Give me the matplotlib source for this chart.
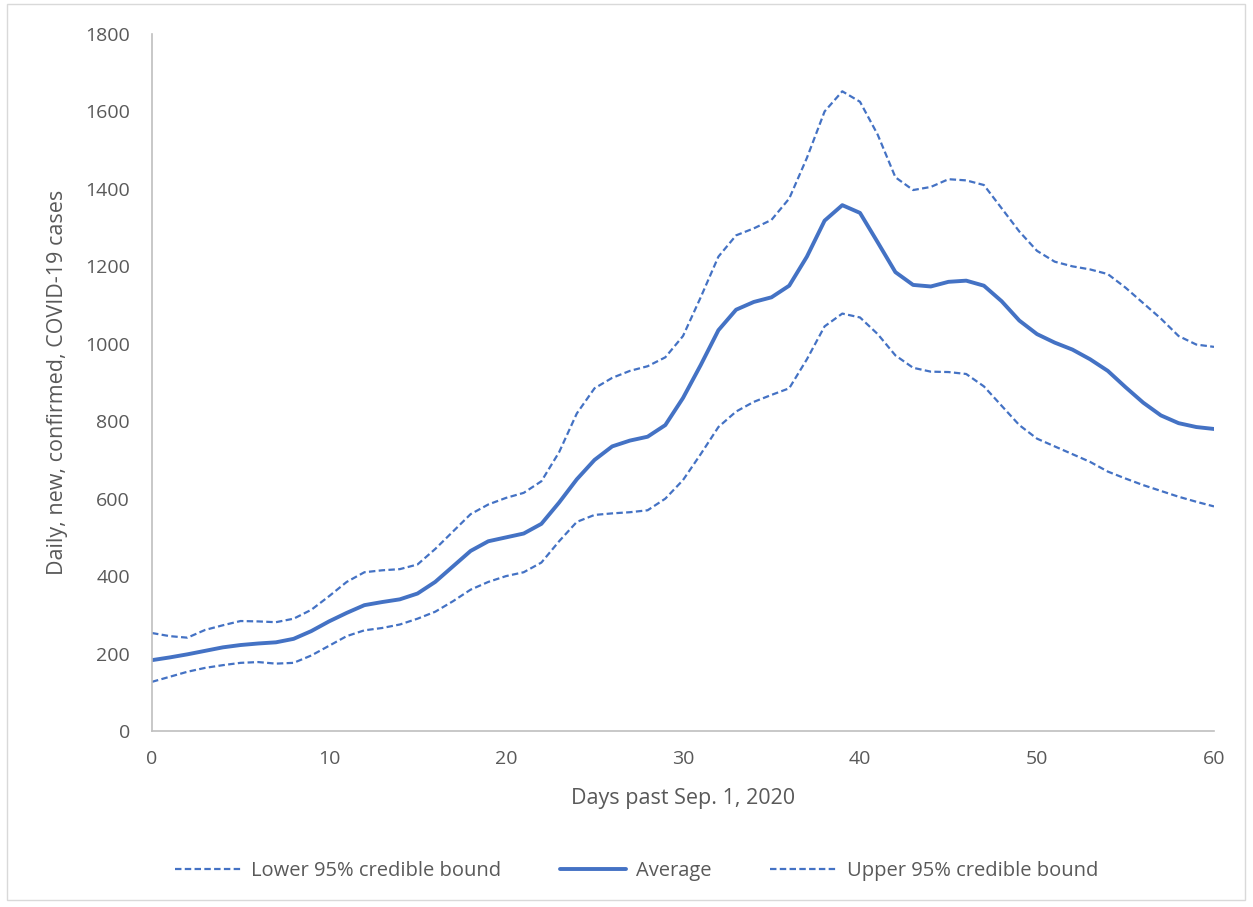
import matplotlib.pyplot as plt
import numpy as np
from matplotlib.patches import Rectangle

days = np.arange(0, 61)

average = [183, 190, 198, 207, 216, 222, 226, 229, 238, 258,
           283, 305, 325, 333, 340, 355, 385, 425, 465, 490,
           500, 510, 535, 590, 650, 700, 735, 750, 760, 790,
           860, 945, 1035, 1088, 1108, 1120, 1150, 1225, 1318, 1358,
           1338, 1262, 1185, 1152, 1148, 1160, 1163, 1150, 1110, 1060,
           1025, 1003, 985, 960, 930, 888, 848, 815, 795, 785,
           780]

lower = [127, 140, 153, 163, 170, 176, 178, 174, 176, 195,
         220, 245, 260, 266, 275, 290, 308, 335, 365, 385,
         400, 410, 435, 490, 540, 558, 562, 565, 570, 600,
         648, 715, 785, 825, 850, 868, 885, 960, 1045, 1078,
         1068, 1025, 970, 938, 928, 927, 922, 890, 840, 790,
         755, 735, 715, 695, 670, 652, 635, 620, 605, 592,
         580]

upper = [253, 245, 241, 261, 273, 284, 283, 281, 290, 313,
         348, 385, 410, 415, 418, 430, 470, 515, 560, 585,
         602, 615, 645, 720, 820, 885, 912, 930, 942, 965,
         1020, 1120, 1225, 1280, 1298, 1320, 1375, 1480, 1600, 1652,
         1625, 1540, 1430, 1397, 1405, 1425, 1422, 1410, 1350, 1290,
         1240, 1212, 1200, 1192, 1180, 1145, 1105, 1065, 1020, 998,
         992]

blue = '#4472C4'
grey_txt = '#595959'
font = 'Open Sans'

fig = plt.figure(figsize=(12.53, 9.07), dpi=100)
ax = fig.add_axes([152/1253, 1-731/907, (1214-152)/1253, (731-34)/907])

ax.plot(days, lower, color=blue, lw=1.6, dashes=(2.9, 1.5), dash_joinstyle='round',
        label='Lower 95% credible bound')
ax.plot(days, average, color=blue, lw=2.8, solid_capstyle='round', solid_joinstyle='round',
        label='Average')
ax.plot(days, upper, color=blue, lw=1.6, dashes=(2.9, 1.5), dash_joinstyle='round',
        label='Upper 95% credible bound')

ax.set_xlim(0, 60)
ax.set_ylim(0, 1800)
ax.set_xticks(np.arange(0, 61, 10))
ax.set_yticks(np.arange(0, 1801, 200))

for s in ['top', 'right']:
    ax.spines[s].set_visible(False)
for s in ['left', 'bottom']:
    ax.spines[s].set_color('#BFBFBF')
    ax.spines[s].set_linewidth(1.2)

ax.tick_params(axis='both', length=0, labelsize=14, labelcolor=grey_txt)
ax.tick_params(axis='y', pad=16)
ax.tick_params(axis='x', pad=14)
for lab in ax.get_xticklabels() + ax.get_yticklabels():
    lab.set_fontfamily(font)

ax.set_xlabel('Days past Sep. 1, 2020', fontsize=15.5, color=grey_txt, family=font, labelpad=14)
ax.set_ylabel('Daily, new, confirmed, COVID-19 cases', fontsize=15.5, color=grey_txt, family=font, labelpad=12)

leg = fig.legend(loc='center', bbox_to_anchor=(0.508, 1-871/907), ncol=3, frameon=False,
                 handlelength=3.3, columnspacing=2.9, handletextpad=0.5,
                 prop={'family': font, 'size': 14.5})
for t in leg.get_texts():
    t.set_color(grey_txt)

fig.patches.append(Rectangle((7/1253, 1-900/907), 1238/1253, 896/907, transform=fig.transFigure,
                             fill=False, edgecolor='#D9D9D9', lw=1))

fig.savefig('out.png', dpi=100)
